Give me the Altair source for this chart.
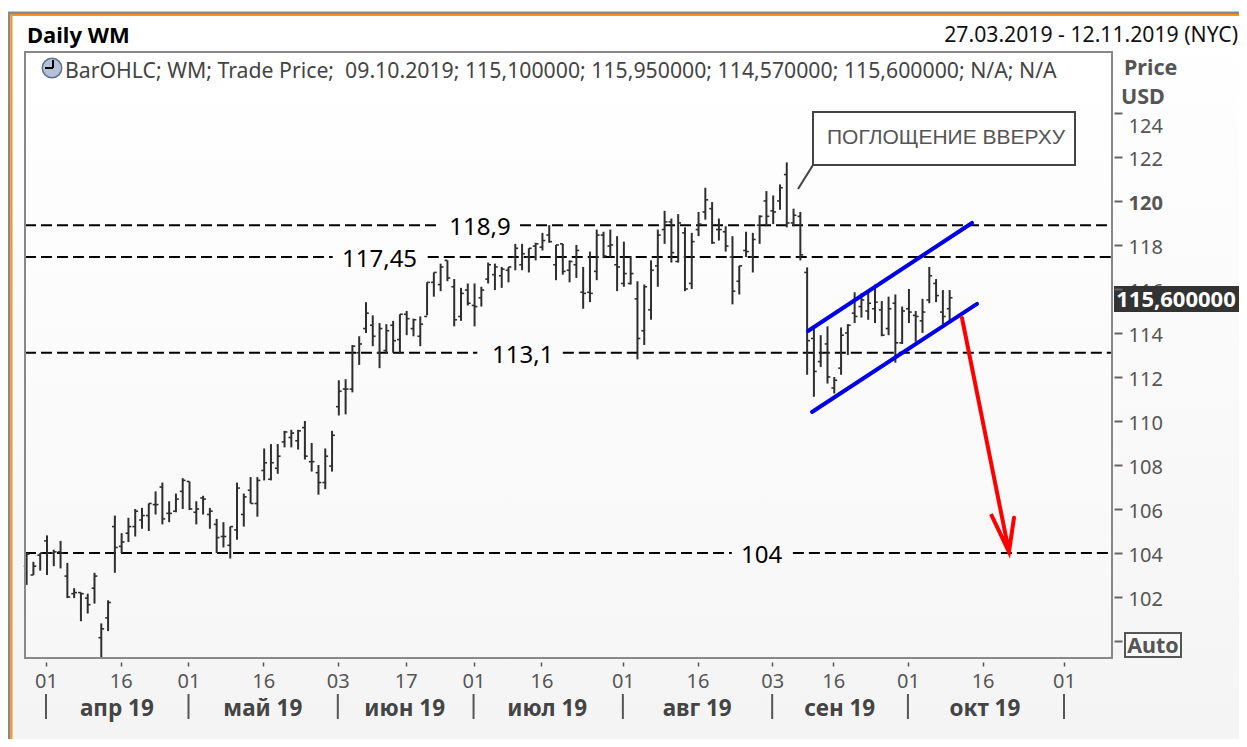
import json
import altair as alt
import pandas as pd

opens = [103.4,103.0,103.9,104.55,104.0,104.05,102.95,102.15,102.2,101.95,102.4,100.15,101.05,105.2,104.3,104.9,105.2,105.5,105.7,106.2,
107.0,105.8,105.9,106.8,107.25,105.85,106.5,105.75,105.3,104.75,104.35,105.05,105.75,106.85,106.25,107.75,107.35,107.85,109.05,109.25,
109.1,109.7,108.15,107.65,107.2,107.95,110.65,111.45,111.45,113.1,114.2,114.35,113.1,113.2,114.35,113.7,114.85,114.2,113.85,114.75,
116.3,116.2,117.3,116.1,114.75,115.95,115.25,115.6,116.45,116.65,116.6,116.85,117.45,117.1,117.45,117.95,117.9,118.45,117.1,118.05,
116.85,117.1,115.85,115.85,116.8,118.45,117.95,117.1,116.25,116.25,115.55,114.1,115.05,117.05,118.7,119.05,117.25,118.55,116.25,118.7,
119.5,119.65,118.7,118.6,117.45,116.35,117.75,117.45,118.9,120.0,119.55,120.0,121.2,119.0,119.3,116.75,113.75,112.7,113.5,111.5,
112.4,114.0,114.9,115.2,115.0,115.1,115.05,114.2,115.35,113.55,115.1,114.8,114.55,115.5,116.25,114.95,115.1]
highs = [104.0,103.6,104.0,104.8,104.15,104.55,103.55,102.4,102.2,102.15,103.1,100.8,101.85,105.7,104.9,105.6,106.0,106.05,106.25,106.8,
107.2,106.35,106.7,107.4,107.25,106.35,106.6,106.05,105.55,105.4,105.2,107.2,106.7,107.45,107.45,108.75,108.95,108.95,109.55,109.6,
109.6,110.0,109.0,108.0,108.75,109.55,111.85,111.9,113.45,113.85,115.4,114.8,114.45,114.4,114.55,114.85,115.0,114.65,114.75,116.3,
116.75,117.15,117.3,116.45,116.05,116.25,116.25,116.1,117.2,117.15,117.0,117.0,118.05,118.05,117.85,118.1,118.55,118.9,118.0,118.05,
117.3,118.0,117.0,117.7,118.7,118.6,118.7,118.4,118.15,117.5,116.35,116.2,117.3,118.7,119.55,119.2,119.4,118.8,118.55,119.5,
120.6,119.95,119.2,118.85,118.4,117.05,118.6,118.55,119.35,120.45,120.25,120.75,121.75,119.65,119.5,116.98,114.35,113.9,114.3,112.0,
114.25,114.4,115.85,115.8,115.95,116.2,115.45,115.65,115.75,115.2,116.0,115.0,115.55,117.0,116.45,115.95,115.95]
lows = [102.55,103.0,103.2,103.0,103.4,103.3,101.95,101.95,100.9,101.25,101.7,99.25,100.45,103.1,104.0,104.5,104.75,105.1,105.0,105.75,
105.3,105.4,105.85,106.0,105.95,105.3,105.75,105.1,104.0,104.25,103.75,104.6,105.2,106.25,105.65,107.3,107.3,107.6,108.8,108.8,
108.7,108.25,107.7,106.65,106.9,107.7,110.25,110.3,111.3,112.55,114.0,113.4,112.4,113.05,113.1,113.05,113.9,113.85,113.4,114.8,
115.65,115.9,116.35,114.3,114.55,115.25,114.3,115.2,116.25,115.95,116.05,116.3,116.85,116.85,116.75,117.3,117.75,118.1,116.4,116.65,
116.3,116.5,115.1,115.4,116.4,117.4,117.45,115.9,116.1,116.2,112.8,113.45,114.6,116.1,118.05,117.2,117.2,115.9,116.0,118.4,
119.15,118.05,118.2,117.7,115.3,115.75,117.45,116.75,118.05,118.85,118.95,119.6,118.8,118.85,117.3,112.1,111.1,112.45,111.7,111.25,
112.1,113.0,114.45,114.7,114.6,114.45,113.85,113.9,112.65,113.5,114.45,113.6,114.0,115.35,115.4,114.4,114.57]
closes = [103.95,103.4,104.0,104.0,104.05,104.0,102.0,102.2,102.15,101.65,102.95,100.55,101.75,104.25,104.5,105.2,105.9,105.7,106.25,106.2,
105.55,105.8,106.45,107.3,106.0,106.0,106.45,105.9,104.7,104.75,105.2,106.95,106.55,106.25,107.3,108.1,108.1,108.4,109.5,109.45,
109.55,108.4,108.15,107.2,108.4,109.35,111.35,111.45,113.4,113.5,114.9,113.85,114.2,114.1,113.65,114.85,114.65,114.6,114.4,116.3,
116.75,117.0,116.5,114.6,115.8,115.35,115.2,115.95,117.1,117.0,116.9,117.0,117.85,117.6,117.85,118.05,118.2,118.15,118.0,116.8,
117.25,117.75,115.8,115.8,118.45,117.5,118.0,117.0,116.7,116.7,113.75,116.1,116.85,118.45,119.05,117.65,119.0,116.0,118.15,118.95,
120.05,118.1,118.7,117.95,115.9,117.05,117.7,118.25,119.3,119.3,119.5,120.6,119.0,119.35,117.55,113.65,112.25,113.1,112.0,111.85,
113.9,114.35,114.75,115.5,115.35,115.4,113.9,115.1,113.55,115.0,114.95,114.75,114.95,116.6,115.7,114.75,115.6]

tick_idx = [3,14,24,35,46,56,66,76,88,99,110,119,130,141,153]
tick_text = ["01","16","01","16","03","17","01","16","01","16","03","16","01","16","01"]
y_ticks = [100,102,104,106,108,110,112,114,116,118,120,122,124]
month_names = ["апр 19","май 19","июн 19","июл 19","авг 19","сен 19","окт 19"]
month_pos = [13.3,34.8,55.7,76.7,98.8,119.8,141.2]
month_seps = [3,24,46,66,88,110,130,153]

level_price = [118.9,118.9,117.45,117.45,113.1,113.1,104.0,104.0]
level_from = [-0.24,72.7,-0.24,59.1,-0.24,79.0,-0.24,112.9]
level_to = [60.6,160.0,45.1,160.0,66.4,160.0,103.9,160.0]
level_text = ["118,9","117,45","113,1","104"]
level_text_price = [118.9,117.45,113.1,104.0]
level_text_pos = [66.8,52.0,73.1,108.3]

blue_i = [115.13,139.29,115.72,140.03]
blue_p = [114.09,119.0,110.41,115.32]
blue_s = ["up","up","low","low"]
red_i = [137.82,144.74,142.09,144.74,145.48]
red_p = [114.68,104.05,105.77,104.05,105.6]

FONT = "Noto Sans"
GREY = "#555555"
RIGHT = 1239
BOTTOM = 739

n = len(opens)
df = pd.DataFrame({"i":range(n),"o":opens,"h":highs,"l":lows,"c":closes})
df["il"] = df["i"]-0.42
df["ir"] = df["i"]+0.42

xs = alt.Scale(domain=[-0.24,159.92], nice=False, zero=False)
ys = alt.Scale(domain=[99.227,126.77], nice=False, zero=False)
one = pd.DataFrame({"a":[0]})

def px(v): return alt.value(v-25)
def py(v): return alt.value(v-52)

def rect(x0,x1,y0,y1,**kw):
    return alt.Chart(one).mark_rect(**kw).encode(x=px(x0),x2=px(x1),y=py(y0),y2=py(y1))

def seg(x0,y0,x1,y1,color,width):
    return alt.Chart(one).mark_rule(color=color,strokeWidth=width).encode(x=px(x0),x2=px(x1),y=py(y0),y2=py(y1))

def txt(s,x,y,size,color="#000000",weight="normal",align="left",font=FONT):
    d = pd.DataFrame({"t":[s]})
    return alt.Chart(d).mark_text(fontSize=size,color=color,fontWeight=weight,align=align,baseline="middle",font=font).encode(
        text="t:N",x=px(x),y=py(y))

def grad(a,b):
    return alt.LinearGradient(gradient="linear",x1=0,x2=0,y1=0,y2=1,
        stops=[alt.GradientStop(color=a,offset=0),alt.GradientStop(color=b,offset=1)])

label_map = json.dumps({str(k):v for k,v in zip(tick_idx,tick_text)})
x_axis = alt.Axis(values=[t-0.15 for t in tick_idx], labelExpr=f"{label_map}[round(datum.value)]",
    domain=False, grid=False, title=None, offset=4, tickSize=4, tickWidth=1.5, tickColor=GREY,
    labelColor=GREY, labelFont=FONT, labelFontSize=20, labelPadding=5, zindex=1, labelOverlap=False)
y_axis = alt.Axis(values=y_ticks, orient="right",
    labelExpr="datum.value==116||datum.value==100?'':datum.label",
    labelFontWeight={"condition":{"test":"datum.value==120","value":"bold"},"value":"normal"},
    labelOffset={"condition":{"test":"datum.value==124","value":14},"value":3},
    domain=False, grid=False, title=None, offset=2, tickSize=8, tickWidth=2, tickColor="#666666",
    labelColor=GREY, labelFont=FONT, labelFontSize=20, labelPadding=6, zindex=1, labelOverlap=False)

def XQ(f): return alt.X(f,scale=xs,axis=x_axis)
def YQ(f): return alt.Y(f,scale=ys,axis=y_axis)

layers = []
# page surface and frame
layers.append(rect(8,RIGHT,12,BOTTOM,fill=grad("#ffffff","#f4f4f4")))
layers.append(seg(8,13,RIGHT,13,"#888888",3))
layers.append(seg(11.5,15,RIGHT,15,"#f7941d",2))
layers.append(seg(9,12,9,BOTTOM,"#888888",3))
layers.append(seg(11.5,15,11.5,BOTTOM,"#f7941d",2))
layers.append(rect(25,1112,52,658,fill=grad("#ffffff","#f7f7f7")))

# label partly hidden by the price flag
layers.append(txt("116",1129,292,20,GREY))

# levels
lv = pd.DataFrame({"a":level_from,"b":level_to,"p":level_price})
layers.append(alt.Chart(lv).mark_rule(color="#000000",strokeWidth=2,strokeDash=[11,5]).encode(
    x=XQ("a:Q"),x2="b:Q",y=YQ("p:Q")))

# OHLC
layers.append(alt.Chart(df).mark_rule(color="#2e2e2e",strokeWidth=2).encode(
    x=XQ("i:Q"),y=YQ("l:Q"),y2="h:Q"))
layers.append(alt.Chart(df).mark_rule(color="#2e2e2e",strokeWidth=1.6).encode(
    x=XQ("il:Q"),x2="i:Q",y=YQ("o:Q")))
layers.append(alt.Chart(df).mark_rule(color="#2e2e2e",strokeWidth=1.6).encode(
    x=XQ("i:Q"),x2="ir:Q",y=YQ("c:Q")))

# level labels
lt = pd.DataFrame({"t":level_text,"p":level_text_price,"i":level_text_pos})
layers.append(alt.Chart(lt).mark_text(fontSize=24,color="#000000",font=FONT,baseline="middle",dy=3).encode(
    text="t:N",x=XQ("i:Q"),y=YQ("p:Q")))

# trend channel and arrow
bl = pd.DataFrame({"i":blue_i,"p":blue_p,"s":blue_s})
layers.append(alt.Chart(bl).mark_line(color="#0000e6",strokeWidth=4,strokeCap="round").encode(
    x=XQ("i:Q"),y=YQ("p:Q"),detail="s:N"))
rd = pd.DataFrame({"i":red_i,"p":red_p,"o":range(len(red_i))})
layers.append(alt.Chart(rd).mark_line(color="#ff0000",strokeWidth=4,strokeCap="round",strokeJoin="miter").encode(
    x=XQ("i:Q"),y=YQ("p:Q"),order="o:Q"))

# callout
layers.append(seg(813,165,798,189,"#444444",2))
layers.append(rect(813,1075,112,165,fill="#ffffff",stroke="#444444",strokeWidth=2))
layers.append(txt("ПОГЛОЩЕНИЕ ВВЕРХУ",946,138,21,"#555555",align="center",font="Liberation Sans"))

# frame of the plot
layers.append(rect(25,1112,52,658,fill="transparent",stroke="#888888",strokeWidth=2))

# header
layers.append(txt("Daily WM",27,36,22,"#000000","bold"))
layers.append(txt("27.03.2019 - 12.11.2019 (NYC)",1238,36,21.2,"#111111",align="right"))
layers.append(txt("BarOHLC; WM; Trade Price;\u00a0\u00a009.10.2019; 115,100000; 115,950000; 114,570000; 115,600000; N/A; N/A",65,72,21.25,"#444444"))
layers.append(alt.Chart(one).mark_circle(size=380,fill="#b4c2d8",stroke="#5f7390",strokeWidth=1.5,opacity=1).encode(x=px(52),y=py(68)))
layers.append(seg(53,60,53,68,"#000000",2))
layers.append(seg(45,68,53,68,"#000000",2))

# right column
layers.append(txt("Price",1124,69,21.5,GREY,"bold"))
layers.append(txt("USD",1121,98,21.5,GREY,"bold"))
layers.append(rect(1114,RIGHT,286,312,fill="#333333"))
layers.append(txt("115,600000",1176,300,22,"#ffffff","bold",align="center"))
layers.append(rect(1125,1181,633,657,fill="#f8f8f8",stroke=GREY,strokeWidth=2))
layers.append(txt("Auto",1153,647,21.5,GREY,"bold",align="center"))

# month band
sep = pd.DataFrame({"i":[m-0.15 for m in month_seps]})
layers.append(alt.Chart(sep).mark_rule(color=GREY,strokeWidth=2).encode(
    x=XQ("i:Q"),y=py(694),y2=py(719)))
mon = pd.DataFrame({"t":month_names,"i":month_pos})
layers.append(alt.Chart(mon).mark_text(fontSize=22.5,fontWeight="bold",color="#444444",font=FONT,baseline="middle",dy=2).encode(
    text="t:N",x=XQ("i:Q"),y=py(707)))

chart = alt.layer(*layers).properties(
    width=1087,height=606,
    padding={"left":17,"top":44,"right":127,"bottom":81},
    autosize=alt.AutoSizeParams(type="none"),
    background="#ffffff",
).configure_view(stroke=None)

chart.save("out.html", embed_options={"renderer": "svg", "actions": False})
